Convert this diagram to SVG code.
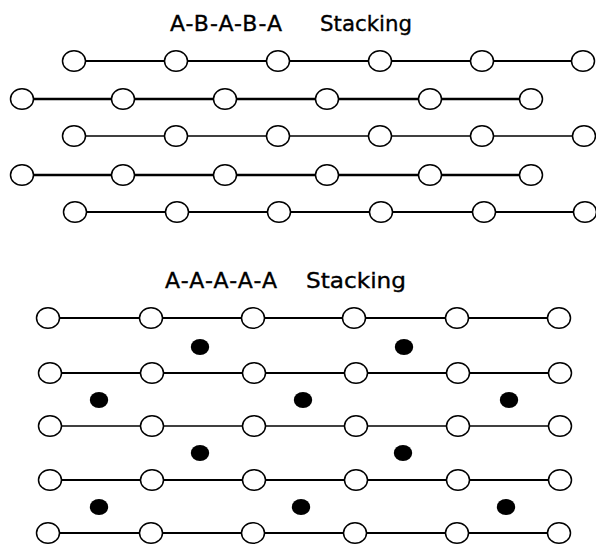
<svg xmlns="http://www.w3.org/2000/svg" width="596" height="545" viewBox="0 0 596 545">
<style>
.t{font-family:"DejaVu Sans","Liberation Sans",sans-serif;font-size:22px;fill:#000;stroke:#000;stroke-width:0.35}
.a{fill:#fff;stroke:#000;stroke-width:1.5}
.d{fill:#000}
.l{stroke:#000;fill:none}
</style>
<rect width="596" height="545" fill="#fff"/>
<g id="titles">
<text class="t" x="170" y="31" textLength="112" lengthAdjust="spacing">A-B-A-B-A</text>
<text class="t" x="320" y="31" textLength="92" lengthAdjust="spacingAndGlyphs">Stacking</text>
<text class="t" x="165" y="288" textLength="112" lengthAdjust="spacing">A-A-A-A-A</text>
<text class="t" x="306" y="288" textLength="100" lengthAdjust="spacingAndGlyphs">Stacking</text>
</g>
<g id="connectors">
<line class="l" x1="74" y1="61" x2="583" y2="61" stroke-width="2"/>
<line class="l" x1="22" y1="99" x2="531" y2="99" stroke-width="2.4"/>
<line class="l" x1="74" y1="136" x2="584" y2="136" stroke-width="1.3"/>
<line class="l" x1="22" y1="175" x2="531" y2="175" stroke-width="2.4"/>
<line class="l" x1="75" y1="212" x2="585" y2="212" stroke-width="2"/>
<line class="l" x1="48" y1="318" x2="559" y2="318" stroke-width="1.8"/>
<line class="l" x1="50" y1="373" x2="560" y2="373" stroke-width="1.8"/>
<line class="l" x1="50" y1="426" x2="560" y2="426" stroke-width="1.4" stroke="#333"/>
<line class="l" x1="50" y1="480" x2="560" y2="480" stroke-width="1.8" stroke="#333"/>
<line class="l" x1="48" y1="533" x2="559" y2="533" stroke-width="2" stroke="#555"/>
</g>
<g id="abab">
<g id="r1n1"><ellipse class="a" cx="74" cy="61" rx="11.5" ry="10.3"/></g>
<g id="r1n2"><ellipse class="a" cx="176" cy="61" rx="11.5" ry="10.3"/></g>
<g id="r1n3"><ellipse class="a" cx="278" cy="61" rx="11.5" ry="10.3"/></g>
<g id="r1n4"><ellipse class="a" cx="380" cy="61" rx="11.5" ry="10.3"/></g>
<g id="r1n5"><ellipse class="a" cx="482" cy="61" rx="11.5" ry="10.3"/></g>
<g id="r1n6"><ellipse class="a" cx="583" cy="61" rx="11.5" ry="10.3"/></g>
<g id="r2n1"><ellipse class="a" cx="22" cy="99" rx="11.5" ry="10.3"/></g>
<g id="r2n2"><ellipse class="a" cx="123" cy="99" rx="11.5" ry="10.3"/></g>
<g id="r2n3"><ellipse class="a" cx="225" cy="99" rx="11.5" ry="10.3"/></g>
<g id="r2n4"><ellipse class="a" cx="327" cy="99" rx="11.5" ry="10.3"/></g>
<g id="r2n5"><ellipse class="a" cx="430" cy="99" rx="11.5" ry="10.3"/></g>
<g id="r2n6"><ellipse class="a" cx="531" cy="99" rx="11.5" ry="10.3"/></g>
<g id="r3n1"><ellipse class="a" cx="74" cy="136" rx="11.5" ry="10.3"/></g>
<g id="r3n2"><ellipse class="a" cx="176" cy="136" rx="11.5" ry="10.3"/></g>
<g id="r3n3"><ellipse class="a" cx="278" cy="136" rx="11.5" ry="10.3"/></g>
<g id="r3n4"><ellipse class="a" cx="380" cy="136" rx="11.5" ry="10.3"/></g>
<g id="r3n5"><ellipse class="a" cx="482" cy="136" rx="11.5" ry="10.3"/></g>
<g id="r3n6"><ellipse class="a" cx="584" cy="136" rx="11.5" ry="10.3"/></g>
<g id="r4n1"><ellipse class="a" cx="22" cy="175" rx="11.5" ry="10.3"/></g>
<g id="r4n2"><ellipse class="a" cx="123" cy="175" rx="11.5" ry="10.3"/></g>
<g id="r4n3"><ellipse class="a" cx="225" cy="175" rx="11.5" ry="10.3"/></g>
<g id="r4n4"><ellipse class="a" cx="327" cy="175" rx="11.5" ry="10.3"/></g>
<g id="r4n5"><ellipse class="a" cx="430" cy="175" rx="11.5" ry="10.3"/></g>
<g id="r4n6"><ellipse class="a" cx="531" cy="175" rx="11.5" ry="10.3"/></g>
<g id="r5n1"><ellipse class="a" cx="75" cy="212" rx="11.5" ry="10.3"/></g>
<g id="r5n2"><ellipse class="a" cx="177" cy="212" rx="11.5" ry="10.3"/></g>
<g id="r5n3"><ellipse class="a" cx="279" cy="212" rx="11.5" ry="10.3"/></g>
<g id="r5n4"><ellipse class="a" cx="381" cy="212" rx="11.5" ry="10.3"/></g>
<g id="r5n5"><ellipse class="a" cx="484" cy="212" rx="11.5" ry="10.3"/></g>
<g id="r5n6"><ellipse class="a" cx="585" cy="212" rx="11.5" ry="10.3"/></g>
</g>
<g id="aaaa">
<g id="s1n1"><ellipse class="a" cx="48" cy="318" rx="11.5" ry="10.3"/></g>
<g id="s1n2"><ellipse class="a" cx="151" cy="318" rx="11.5" ry="10.3"/></g>
<g id="s1n3"><ellipse class="a" cx="253" cy="318" rx="11.5" ry="10.3"/></g>
<g id="s1n4"><ellipse class="a" cx="354" cy="318" rx="11.5" ry="10.3"/></g>
<g id="s1n5"><ellipse class="a" cx="457" cy="318" rx="11.5" ry="10.3"/></g>
<g id="s1n6"><ellipse class="a" cx="559" cy="318" rx="11.5" ry="10.3"/></g>
<g id="s2n1"><ellipse class="a" cx="50" cy="373" rx="11.5" ry="10.3"/></g>
<g id="s2n2"><ellipse class="a" cx="152" cy="373" rx="11.5" ry="10.3"/></g>
<g id="s2n3"><ellipse class="a" cx="254" cy="373" rx="11.5" ry="10.3"/></g>
<g id="s2n4"><ellipse class="a" cx="356" cy="373" rx="11.5" ry="10.3"/></g>
<g id="s2n5"><ellipse class="a" cx="458" cy="373" rx="11.5" ry="10.3"/></g>
<g id="s2n6"><ellipse class="a" cx="560" cy="373" rx="11.5" ry="10.3"/></g>
<g id="s3n1"><ellipse class="a" cx="50" cy="426" rx="11.5" ry="10.3"/></g>
<g id="s3n2"><ellipse class="a" cx="152" cy="426" rx="11.5" ry="10.3"/></g>
<g id="s3n3"><ellipse class="a" cx="254" cy="426" rx="11.5" ry="10.3"/></g>
<g id="s3n4"><ellipse class="a" cx="356" cy="426" rx="11.5" ry="10.3"/></g>
<g id="s3n5"><ellipse class="a" cx="458" cy="426" rx="11.5" ry="10.3"/></g>
<g id="s3n6"><ellipse class="a" cx="560" cy="426" rx="11.5" ry="10.3"/></g>
<g id="s4n1"><ellipse class="a" cx="50" cy="480" rx="11.5" ry="10.3"/></g>
<g id="s4n2"><ellipse class="a" cx="152" cy="480" rx="11.5" ry="10.3"/></g>
<g id="s4n3"><ellipse class="a" cx="254" cy="480" rx="11.5" ry="10.3"/></g>
<g id="s4n4"><ellipse class="a" cx="356" cy="480" rx="11.5" ry="10.3"/></g>
<g id="s4n5"><ellipse class="a" cx="458" cy="480" rx="11.5" ry="10.3"/></g>
<g id="s4n6"><ellipse class="a" cx="560" cy="480" rx="11.5" ry="10.3"/></g>
<g id="s5n1"><ellipse class="a" cx="48" cy="533" rx="11.5" ry="10.3"/></g>
<g id="s5n2"><ellipse class="a" cx="151" cy="533" rx="11.5" ry="10.3"/></g>
<g id="s5n3"><ellipse class="a" cx="253" cy="533" rx="11.5" ry="10.3"/></g>
<g id="s5n4"><ellipse class="a" cx="355" cy="533" rx="11.5" ry="10.3"/></g>
<g id="s5n5"><ellipse class="a" cx="457" cy="533" rx="11.5" ry="10.3"/></g>
<g id="s5n6"><ellipse class="a" cx="559" cy="533" rx="11.5" ry="10.3"/></g>
</g>
<g id="dots">
<g id="d1"><ellipse class="d" cx="200" cy="347" rx="9.2" ry="8"/></g>
<g id="d2"><ellipse class="d" cx="404" cy="347" rx="9.2" ry="8"/></g>
<g id="d3"><ellipse class="d" cx="99" cy="400" rx="9.2" ry="8"/></g>
<g id="d4"><ellipse class="d" cx="303" cy="400" rx="9.2" ry="8"/></g>
<g id="d5"><ellipse class="d" cx="509" cy="400" rx="9.2" ry="8"/></g>
<g id="d6"><ellipse class="d" cx="200" cy="453" rx="9.2" ry="8"/></g>
<g id="d7"><ellipse class="d" cx="403" cy="453" rx="9.2" ry="8"/></g>
<g id="d8"><ellipse class="d" cx="99" cy="507" rx="9.2" ry="8"/></g>
<g id="d9"><ellipse class="d" cx="301" cy="507" rx="9.2" ry="8"/></g>
<g id="d10"><ellipse class="d" cx="506" cy="507" rx="9.2" ry="8"/></g>
</g>
</svg>
